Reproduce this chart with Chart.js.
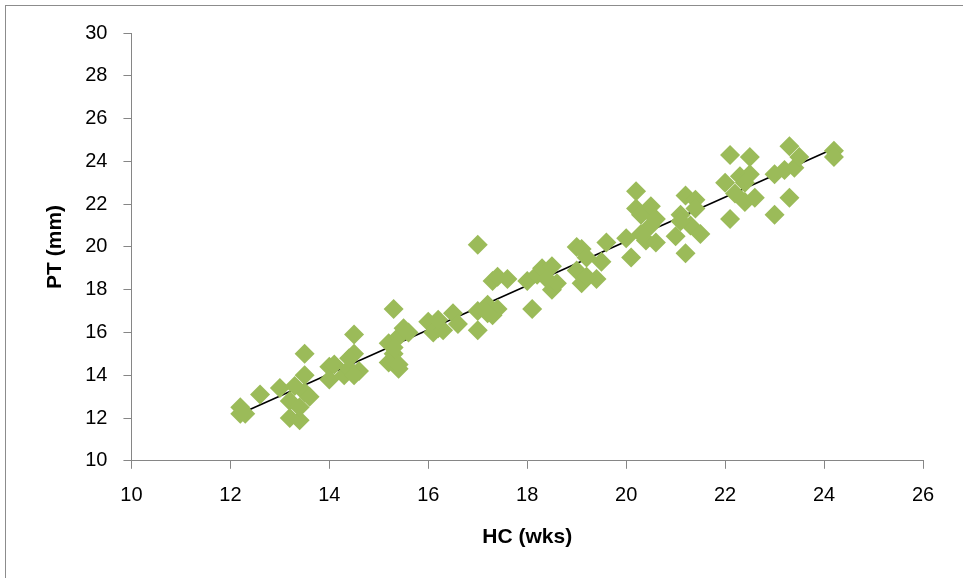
<!DOCTYPE html>
<html>
<head>
<meta charset="utf-8">
<script src="https://cdn.jsdelivr.net/npm/chart.js@4"></script>
<style>
  body { margin: 0; background: #fff; }
  #wrap { position: relative; width: 963px; height: 578px; }
  #frame { position: absolute; left: 5px; top: 5px; right: 0; bottom: 0; border-left: 1px solid #8c8c8c; border-top: 1px solid #8c8c8c; }
  canvas { position: absolute; left: 0; top: 0; }
</style>
</head>
<body>
<div id="wrap">
  <div id="frame"></div>
  <canvas id="chart" width="963" height="578"></canvas>
</div>
<script>
// HC (wks) vs PT (mm)
const hcWeeks = [
  12.2, 12.2, 12.3, 12.6, 13.0, 13.2, 13.2, 13.4, 13.4, 13.5, 13.5, 13.5, 13.6, 13.3,
  14.0, 14.0, 14.1, 14.3, 14.4, 14.5, 14.5, 14.6, 14.5, 14.4,
  15.3, 15.2, 15.3, 15.2, 15.4, 15.4, 15.5, 15.6, 15.3, 15.4,
  16.0, 16.2, 16.1, 16.3, 16.5, 16.6, 16.2,
  17.0, 17.0, 17.0, 17.2, 17.3, 17.4, 17.6, 17.3, 17.4, 17.2,
  18.1, 18.0, 18.2, 18.3, 18.5, 18.5, 18.6, 18.4,
  19.0, 19.1, 19.0, 19.1, 19.2, 19.4, 19.5, 19.6, 19.2,
  20.0, 20.1, 20.2, 20.2, 20.3, 20.4, 20.5, 20.5, 20.6, 20.3, 20.6,
  21.0, 21.1, 21.2, 21.2, 21.3, 21.4, 21.5, 21.1, 21.4,
  22.0, 22.1, 22.1, 22.2, 22.3, 22.4, 22.5, 22.5, 22.6, 22.4,
  23.0, 23.0, 23.3, 23.3, 23.4, 23.5, 23.2,
  24.2, 24.2
];
const ptMm = [
  12.5, 12.2, 12.2, 13.1, 13.4, 12.0, 12.8, 11.9, 12.5, 15.0, 14.0, 13.2, 13.0, 13.5,
  14.4, 13.8, 14.5, 14.0, 14.3, 15.9, 15.0, 14.2, 14.0, 14.8,
  17.1, 15.5, 15.0, 14.6, 14.3, 15.8, 16.2, 16.0, 15.3, 14.5,
  16.5, 16.2, 16.0, 16.1, 16.9, 16.4, 16.6,
  20.1, 16.1, 17.0, 17.3, 18.4, 18.6, 18.5, 16.8, 17.1, 16.9,
  17.1, 18.4, 18.7, 19.0, 19.1, 18.0, 18.3, 18.5,
  20.0, 19.9, 18.9, 18.3, 19.5, 18.5, 19.3, 20.2, 18.6,
  20.4, 19.5, 22.6, 21.8, 21.5, 20.3, 21.9, 21.0, 20.2, 20.6, 21.3,
  20.5, 21.5, 22.4, 19.7, 21.0, 22.2, 20.6, 21.2, 21.8,
  23.0, 24.3, 21.3, 22.5, 23.3, 22.1, 24.2, 23.4, 22.3, 23.0,
  21.5, 23.4, 24.7, 22.3, 23.7, 24.2, 23.6,
  24.5, 24.2
];
// linear trend line end points
const trendX = [12.2, 24.2];
const trendY = [12.2, 24.6];

const xTicks = [10, 12, 14, 16, 18, 20, 22, 24, 26];
const yTicks = [10, 12, 14, 16, 18, 20, 22, 24, 26, 28, 30];

const axisGray = '#868686';
const tickFont = { family: 'Liberation Sans', size: 20 };
const titleFont = { family: 'Liberation Sans', size: 21, weight: 'bold' };

const ctx = document.getElementById('chart').getContext('2d');
new Chart(ctx, {
    type: 'scatter',
    data: {
        datasets: [
            {
                label: 'PT',
                data: hcWeeks.map((x, i) => ({ x: x, y: ptMm[i] })),
                backgroundColor: '#9BBB59',
                borderWidth: 0,
                pointStyle: 'rectRot',
                pointRadius: 10,
                pointHoverRadius: 10
            },
            {
                label: 'Linear',
                type: 'line',
                data: trendX.map((x, i) => ({ x: x, y: trendY[i] })),
                borderColor: '#000000',
                borderWidth: 1.6,
                pointRadius: 0,
                fill: false
            }
        ]
    },
    options: {
        responsive: false,
        animation: false,
        layout: { padding: { left: 43, top: 33, right: 40, bottom: 28 } },
        plugins: {
            legend: { display: false },
            tooltip: { enabled: false }
        },
        scales: {
            x: {
                type: 'linear',
                min: 10,
                max: 26,
                afterBuildTicks: (axis) => { axis.ticks = xTicks.map(v => ({ value: v })); },
                grid: { display: true, drawOnChartArea: false, drawTicks: true, tickLength: 8, color: axisGray },
                border: { color: axisGray, width: 1 },
                ticks: { color: '#000', font: tickFont, padding: 15 },
                title: { display: true, text: 'HC (wks)', color: '#000', font: titleFont, padding: { top: 2, bottom: 0 } }
            },
            y: {
                type: 'linear',
                min: 10,
                max: 30,
                afterBuildTicks: (axis) => { axis.ticks = yTicks.map(v => ({ value: v })); },
                grid: { display: true, drawOnChartArea: false, drawTicks: true, tickLength: 8, color: axisGray },
                border: { color: axisGray, width: 1 },
                ticks: { color: '#000', font: tickFont, padding: 16 },
                title: { display: true, text: 'PT (mm)', color: '#000', font: titleFont, padding: { top: 0, bottom: 1 } }
            }
        }
    }
});
</script>
</body>
</html>
